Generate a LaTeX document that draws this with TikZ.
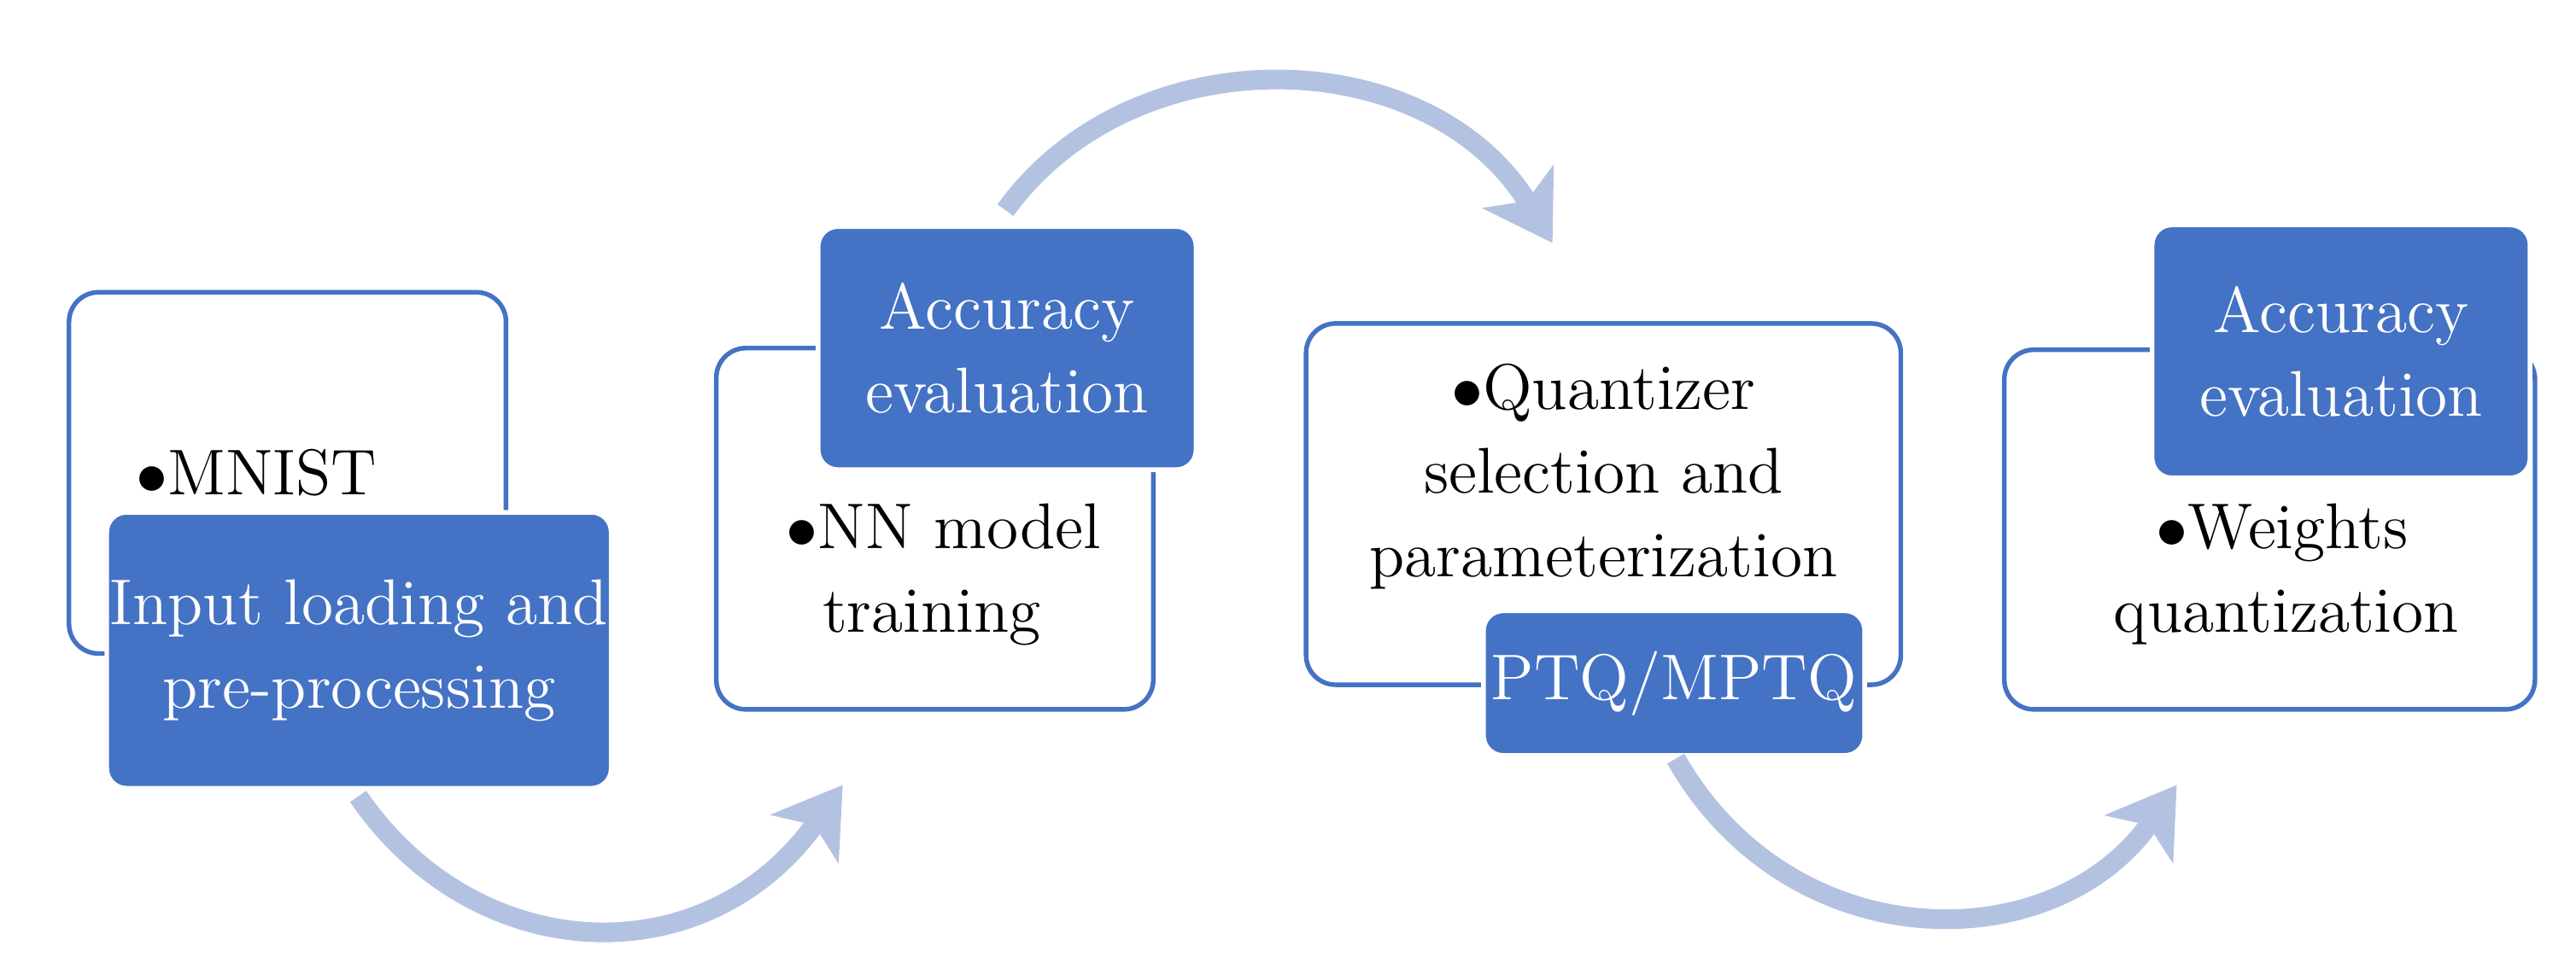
\documentclass[tikz,border=0pt]{standalone}
\usetikzlibrary{arrows.meta}
\definecolor{bl}{HTML}{4472C4}
\definecolor{ar}{HTML}{B4C2E2}
\begin{document}
\begin{tikzpicture}[x=1cm,y=1cm,
 wbox/.style={draw=bl,line width=0.8pt,fill=white,rounded corners=0.18cm,inner sep=0,anchor=center},
 bbox/.style={draw=white,line width=0.8pt,fill=bl,rounded corners=0.12cm,text=white,align=center,font=\fontsize{11.2}{14.5}\selectfont,anchor=center,inner sep=0},
 txt/.style={align=left,font=\fontsize{11.2}{14.5}\selectfont,inner sep=0},
 arr/.style={ar,line width=0.12cm,-{Stealth[length=0.4cm,width=0.5cm,inset=0.1cm]}}]
\useasboundingbox (0,0) rectangle (15.68,5.90);
% box 1
\node[wbox,minimum width=2.66cm,minimum height=2.20cm] (w1) at (1.75,3.02) {};
\node[txt,anchor=west] (t1) at (0.82,3.02) {$\bullet$MNIST};
\node[bbox,minimum width=3.07cm,minimum height=1.68cm] (b1) at (2.185,1.94) {Input loading and\\pre-processing};
% box 2
\node[wbox,minimum width=2.66cm,minimum height=2.20cm] (w2) at (5.69,2.68) {};
\node[bbox,minimum width=2.30cm,minimum height=1.48cm] (b2) at (6.13,3.78) {Accuracy\\evaluation};
\node[txt,anchor=north west] (t2) at (4.78,2.84) {$\bullet$NN model\\\hspace*{0.22cm}training};
% box 3
\node[wbox,minimum width=3.62cm,minimum height=2.20cm] (w3) at (9.76,2.83) {};
\node[txt,align=center] (t3) at (9.76,3.0) {$\bullet$Quantizer\\selection and\\parameterization};
\node[bbox,minimum width=2.32cm,minimum height=0.88cm] (b3) at (10.19,1.74) {PTQ/MPTQ};
% box 4
\node[wbox,minimum width=3.23cm,minimum height=2.19cm] (w4) at (13.815,2.675) {};
\node[bbox,minimum width=2.30cm,minimum height=1.54cm] (b4) at (14.25,3.76) {Accuracy\\evaluation};
\node[txt,anchor=north west] (t4) at (12.86,2.84) {\hspace*{0.26cm}$\bullet$Weights\\quantization};
% arrows
\coordinate (a1s) at (2.18,1.05);
\coordinate (a1e) at (5.13,1.12);
\draw[arr] (a1s) .. controls (2.9,0.0) and (4.3,-0.05) .. (a1e);
\coordinate (a2s) at (6.12,4.62);
\coordinate (a2e) at (9.45,4.42);
\draw[arr] (a2s) .. controls (6.9,5.7) and (8.7,5.65) .. (a2e);
\coordinate (a3s) at (10.2,1.28);
\coordinate (a3e) at (13.25,1.12);
\draw[arr] (a3s) .. controls (10.9,0.05) and (12.5,0.05) .. (a3e);
\end{tikzpicture}
\end{document}
